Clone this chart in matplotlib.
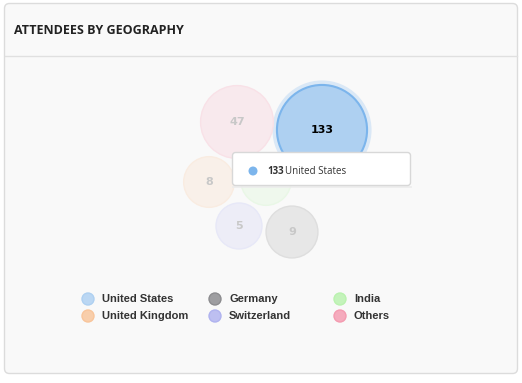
import numpy as np
import matplotlib
matplotlib.use("Agg")
import matplotlib.pyplot as plt
from matplotlib.patches import Circle, FancyBboxPatch
from matplotlib.colors import to_rgb

# data
countries = ["United States", "Germany", "India", "United Kingdom", "Switzerland", "Others"]
attendees = [133, 9, 8, 8, 5, 47]
colors = ["#7cb5ec", "#434348", "#90ed7d", "#f7a35c", "#8085e9", "#f15c80"]
hovered = "United States"

# packed-bubble layout (pixel centres, screen coords)
centers = {
    "United States": (322, 130),
    "Others": (237, 122),
    "United Kingdom": (209, 182),
    "India": (266, 180),
    "Switzerland": (239, 226),
    "Germany": (292, 232),
}

BG = "#f9f9f9"


def blend(c, a, bg=BG):
    c = np.array(to_rgb(c))
    b = np.array(to_rgb(bg))
    return tuple(a * c + (1 - a) * b)


def radius(v, vmin=min(attendees), rmin=23.0):
    # bubble size scale
    return rmin * (v / vmin) ** 0.205


W, H = 522, 383
fig = plt.figure(figsize=(W / 100, H / 100), dpi=100)
fig.patch.set_facecolor("white")
ax = fig.add_axes([0, 0, 1, 1])
ax.set_xlim(0, W)
ax.set_ylim(H, 0)
ax.axis("off")

# card
card = FancyBboxPatch((4.5, 3.5), 513, 370, boxstyle="round,pad=0,rounding_size=5",
                      fc=BG, ec="#dcdcdc", lw=1)
ax.add_patch(card)
ax.plot([5, 517], [55.5, 55.5], color="#e0e0e0", lw=1)
ax.text(14, 31, "ATTENDEES BY GEOGRAPHY", fontsize=9, fontweight="bold",
        family="Open Sans", color="#222222", va="center", ha="left")

# bubbles
for name, val, col in zip(countries, attendees, colors):
    x, y = centers[name]
    r = radius(val)
    if name == hovered:
        ax.add_patch(Circle((x, y), r + 4.5, fc=blend(col, 0.25), ec="none", zorder=2))
        ax.add_patch(Circle((x, y), r, fc=blend(col, 0.6), ec=col, lw=1.5, zorder=3))
        ax.text(x, y, str(val), fontsize=8, fontweight="bold", color="black",
                ha="center", va="center", zorder=4)
    else:
        ax.add_patch(Circle((x, y), r, fc=blend(col, 0.1), ec=blend(col, 0.15), lw=1, zorder=2))
        ax.text(x, y, str(val), fontsize=8, fontweight="bold", color="#c8c8c8",
                ha="center", va="center", zorder=4)

# tooltip
tip = FancyBboxPatch((232.5, 152.5), 178, 33, boxstyle="round,pad=0,rounding_size=3",
                     fc="white", ec="#d8d8d8", lw=1, zorder=6)
ax.add_patch(tip)
ax.plot([233, 411], [187, 187], color="#ececec", lw=1.2, zorder=5)
i = countries.index(hovered)
ax.add_patch(Circle((253, 171), 4.5, fc=colors[i], ec="none", zorder=7))
t = ax.text(267, 171, str(attendees[i]), fontsize=7, fontweight="bold",
            family="Open Sans", color="#333333", va="center", ha="left", zorder=7)
fig.canvas.draw()
bb = t.get_window_extent()
x_end = ax.transData.inverted().transform((bb.x1, bb.y0))[0]
ax.text(x_end + 1.5, 171, hovered, fontsize=7, family="Open Sans",
        color="#333333", va="center", ha="left", zorder=7)

# legend
leg_order = ["United States", "Germany", "India", "United Kingdom", "Switzerland", "Others"]
col_x = [88, 215, 340]
row_y = [299, 316]
for k, name in enumerate(leg_order):
    j = countries.index(name)
    x = col_x[k % 3]
    y = row_y[k // 3]
    ax.add_patch(Circle((x, y), 6, fc=blend(colors[j], 0.5), ec=blend(colors[j], 0.6), lw=1, zorder=3))
    ax.text(x + 14, y, name, fontsize=8, fontweight="bold", family="Liberation Sans",
            color="#333333", va="center", ha="left")

fig.savefig("out.png", dpi=100, facecolor="white")
